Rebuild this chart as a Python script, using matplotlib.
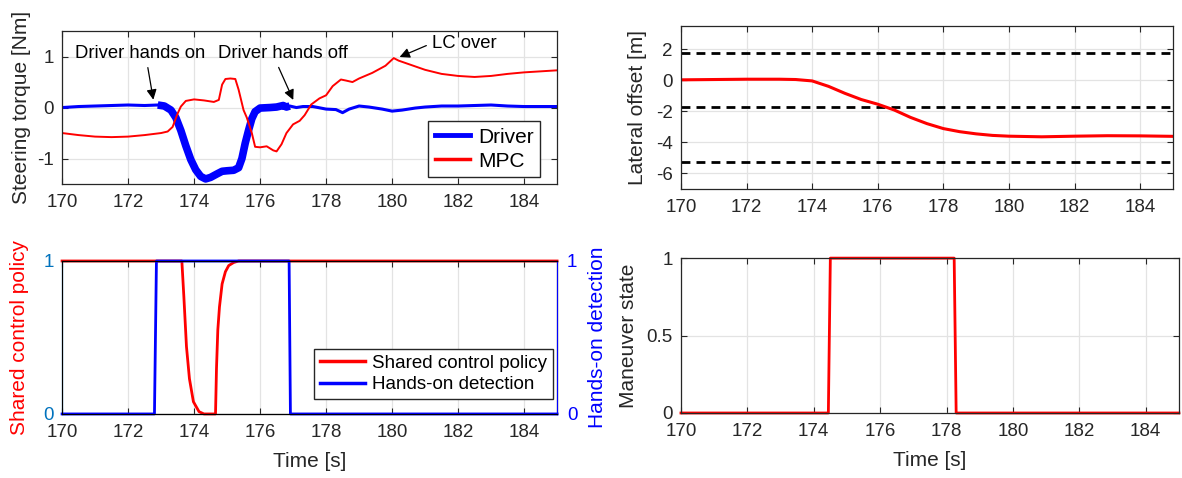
import numpy as np
import matplotlib.pyplot as plt

plt.rcParams['font.family'] = ['Liberation Sans', 'DejaVu Sans']
plt.rcParams['axes.unicode_minus'] = False

# --- data ---
t_drv = [170.0, 170.5, 171.0, 171.5, 172.0, 172.5, 172.9, 173.1, 173.3, 173.45, 173.6, 173.75,
         173.9, 174.05, 174.2, 174.35, 174.5, 174.7, 174.85, 175.0, 175.2, 175.35, 175.45, 175.55,
         175.65, 175.75, 175.85, 176.0, 176.3, 176.5, 176.7, 176.8, 176.9, 177.1, 177.3, 177.6,
         178.0, 178.3, 178.5, 178.7, 179.0, 179.3, 179.7, 180.0, 180.3, 180.7, 181.0, 181.5,
         182.0, 182.5, 183.0, 183.5, 184.0, 184.5, 185.0]
tq_drv = [0.00, 0.02, 0.03, 0.04, 0.05, 0.04, 0.05, 0.03, -0.05, -0.2, -0.45, -0.75,
          -1.02, -1.22, -1.35, -1.40, -1.37, -1.30, -1.25, -1.24, -1.23, -1.18, -1.0, -0.7,
          -0.45, -0.22, -0.08, -0.01, 0.00, 0.01, 0.04, 0.01, 0.03, 0.00, 0.02, 0.02,
          -0.03, -0.04, -0.10, -0.03, 0.03, 0.01, -0.03, -0.07, -0.05, -0.01, 0.01, 0.03,
          0.03, 0.04, 0.05, 0.03, 0.02, 0.02, 0.02]

t_mpc = [170.0, 170.5, 171.0, 171.5, 172.0, 172.5, 173.0, 173.2, 173.35, 173.5, 173.6, 173.75,
         174.0, 174.3, 174.6, 174.75, 174.85, 174.95, 175.1, 175.25, 175.35, 175.5, 175.6, 175.75,
         175.85, 176.0, 176.2, 176.4, 176.5, 176.65, 176.8, 177.0, 177.2, 177.35, 177.55, 177.8,
         178.0, 178.2, 178.45, 178.6, 178.8, 179.0, 179.4, 179.8, 180.05, 180.2, 180.6, 181.0,
         181.5, 182.0, 182.5, 183.0, 183.5, 184.0, 184.5, 185.0]
tq_mpc = [-0.50, -0.54, -0.57, -0.58, -0.57, -0.54, -0.50, -0.47, -0.38, -0.12, 0.02, 0.13,
          0.16, 0.14, 0.11, 0.15, 0.45, 0.56, 0.57, 0.56, 0.35, -0.05, -0.2, -0.5,
          -0.77, -0.78, -0.76, -0.84, -0.86, -0.72, -0.5, -0.33, -0.26, -0.15, 0.06, 0.18,
          0.24, 0.42, 0.55, 0.53, 0.50, 0.57, 0.68, 0.82, 0.97, 0.92, 0.83, 0.74,
          0.66, 0.62, 0.60, 0.62, 0.66, 0.69, 0.71, 0.73]

t_lat = [170.0, 171.0, 172.0, 173.0, 173.5, 174.0, 174.5, 175.0, 175.5, 176.0, 176.5, 177.0,
         177.5, 178.0, 178.5, 179.0, 179.5, 180.0, 181.0, 182.0, 183.0, 184.0, 185.0]
lat = [0.02, 0.04, 0.06, 0.06, 0.04, -0.05, -0.4, -0.85, -1.25, -1.55, -1.92, -2.4,
       -2.8, -3.12, -3.32, -3.46, -3.56, -3.61, -3.65, -3.61, -3.58, -3.59, -3.62]
lane_lines = [1.75, -1.75, -5.25]

t_scp = [170.0, 173.63, 173.69, 173.77, 173.86, 173.98, 174.15, 174.3, 174.65, 174.68, 174.72,
         174.77, 174.85, 174.95, 175.05, 175.2, 175.35, 185.0]
scp = [1.0, 1.0, 0.77, 0.44, 0.23, 0.08, 0.015, 0.0, 0.0, 0.3, 0.55,
       0.7, 0.85, 0.93, 0.97, 0.99, 1.0, 1.0]

t_hod = [170.0, 172.8, 172.86, 176.88, 176.92, 185.0]
hod = [0, 0, 1, 1, 0, 0]

t_man = [170.0, 174.44, 174.5, 178.23, 178.29, 185.0]
man = [0, 0, 1, 1, 0, 0]

hands_on = (172.9, 176.9)
xticks = np.arange(170, 185, 2)

dark = '#262626'
fs_tick = 13.5
fs_lab = 15
fig = plt.figure(figsize=(11.82, 4.78), dpi=100)
ax1 = fig.add_axes([0.0525, 0.615, 0.4188, 0.320])
ax2 = fig.add_axes([0.0525, 0.134, 0.4188, 0.320])
ax3 = fig.add_axes([0.5761, 0.605, 0.4162, 0.341])
ax4 = fig.add_axes([0.5761, 0.136, 0.4213, 0.324])


def style(ax):
    ax.set_xlim(170, 185)
    ax.set_xticks(xticks)
    ax.grid(True, color='#e3e3e3', linewidth=0.9)
    ax.set_axisbelow(True)
    ax.tick_params(direction='in', length=4, labelsize=fs_tick, colors=dark, top=True, right=True)
    ax.tick_params(axis='x', pad=7)
    ax.tick_params(axis='y', pad=6)
    for s in ax.spines.values():
        s.set_color(dark)
        s.set_linewidth(0.9)


for a in (ax1, ax2, ax3, ax4):
    style(a)

# steering torque
t_arr = np.array(t_drv)
tq_arr = np.array(tq_drv)
ax1.plot(t_drv, tq_drv, color='blue', lw=2.2, label='Driver')
m = (t_arr >= hands_on[0]) & (t_arr <= hands_on[1])
ax1.plot(t_arr[m], tq_arr[m], color='blue', lw=5.5, solid_capstyle='butt')
ax1.plot(t_mpc, tq_mpc, color='red', lw=1.4, label='MPC')
ax1.set_ylim(-1.5, 1.5)
ax1.set_yticks([-1, 0, 1])
ax1.set_ylabel('Steering torque [Nm]', fontsize=fs_lab, color=dark, labelpad=4)
h1 = [plt.Line2D([], [], color='blue', lw=3.5), plt.Line2D([], [], color='red', lw=2.5)]
ax1.legend(h1, ['Driver', 'MPC'], loc='lower right', bbox_to_anchor=(0.966, 0.046),
           borderaxespad=0, fontsize=15, fancybox=False, edgecolor=dark, framealpha=1,
           handlelength=1.7, handletextpad=0.4, borderpad=0.3, labelspacing=0.25)
akw = dict(arrowstyle='-|>', color='black', lw=0.9, mutation_scale=15)
ax1.annotate('Driver hands on', xy=(172.78, 0.1), xytext=(170.4, 0.97), fontsize=13.3,
             ha='left', va='baseline', arrowprops=dict(akw, relpos=(0.55, 0)))
ax1.annotate('Driver hands off', xy=(177.04, 0.1), xytext=(174.72, 0.97), fontsize=13.3,
             ha='left', va='baseline', arrowprops=dict(akw, relpos=(0.45, 0)))
ax1.annotate('LC over', xy=(180.15, 0.97), xytext=(181.2, 1.26), fontsize=13.3,
             ha='left', va='center', arrowprops=dict(akw, relpos=(0, 0.5)))

# shared control / hands-on
ax2.plot(t_scp, scp, color='red', lw=2.0, clip_on=False)
ax2.set_ylim(0, 1)
ax2.set_yticks([0, 1])
ax2.tick_params(axis='y', colors='#0072bd', right=False)
ax2.spines['left'].set_color('#0072bd')
ax2.set_ylabel('Shared control policy', fontsize=fs_lab, color='red', labelpad=10)
ax2.set_xlabel('Time [s]', fontsize=fs_lab, color=dark, labelpad=8)
ax2b = ax2.twinx()
ax2b.plot(t_hod, hod, color='blue', lw=2.0, clip_on=False)
ax2b.set_ylim(0, 1)
ax2b.set_yticks([0, 1])
ax2b.tick_params(direction='in', length=4, labelsize=fs_tick, colors='blue', pad=7)
ax2b.spines['right'].set_color('blue')
ax2b.set_ylabel('Hands-on detection', fontsize=fs_lab, color='blue', labelpad=8)
h2 = [plt.Line2D([], [], color='red', lw=2.5), plt.Line2D([], [], color='blue', lw=2.5)]
ax2b.legend(h2, ['Shared control policy', 'Hands-on detection'], loc='lower right',
            bbox_to_anchor=(0.992, 0.097), borderaxespad=0, fontsize=13.5, fancybox=False,
            edgecolor=dark, framealpha=1, handlelength=2.4, handletextpad=0.4,
            borderpad=0.3, labelspacing=0.25)

# lateral offset
for y in lane_lines:
    ax3.axhline(y, color='black', lw=2.0, ls=(0, (3.2, 2.2)))
ax3.plot(t_lat, lat, color='red', lw=2.2)
ax3.set_ylim(-7, 3.5)
ax3.set_yticks([-6, -4, -2, 0, 2])
ax3.set_ylabel('Lateral offset [m]', fontsize=fs_lab, color=dark, labelpad=6)

# maneuver state
ax4.plot(t_man, man, color='red', lw=2.0, clip_on=False)
ax4.set_ylim(0, 1)
ax4.set_yticks([0, 0.5, 1])
ax4.set_yticklabels(['0', '0.5', '1'])
ax4.set_ylabel('Maneuver state', fontsize=fs_lab, color=dark, labelpad=6)
ax4.set_xlabel('Time [s]', fontsize=fs_lab, color=dark, labelpad=8)

fig.savefig('out.png', dpi=100)
